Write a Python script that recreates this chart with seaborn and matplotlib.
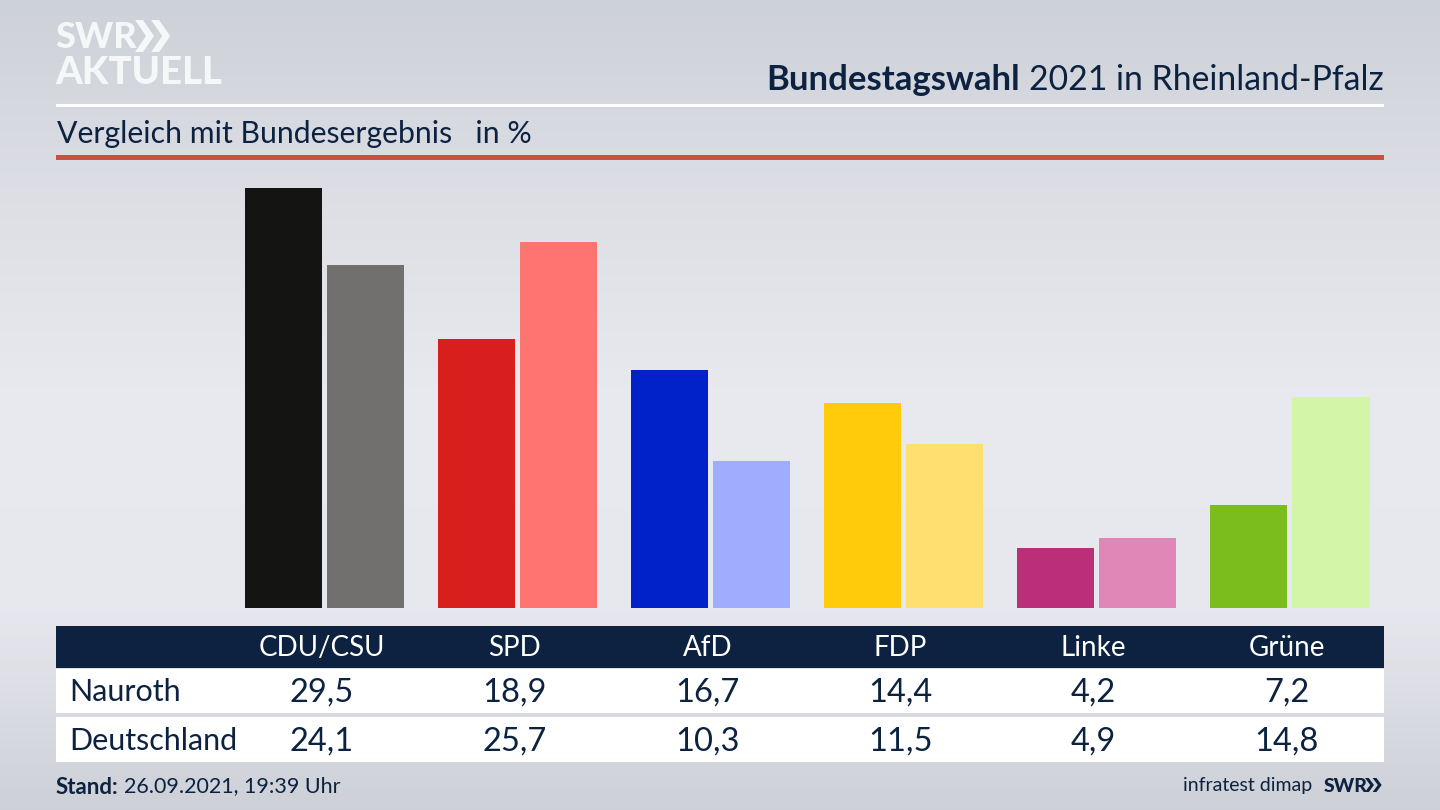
import numpy as np
import pandas as pd
import seaborn as sns
import matplotlib
matplotlib.use("Agg")
import matplotlib.pyplot as plt
from matplotlib.patches import Rectangle, Polygon
from matplotlib.colors import LinearSegmentedColormap

parties = ["CDU/CSU", "SPD", "AfD", "FDP", "Linke", "Grüne"]
nauroth = [29.5, 18.9, 16.7, 14.4, 4.2, 7.2]
deutschland = [24.1, 25.7, 10.3, 11.5, 4.9, 14.8]
colors_nauroth = ["#141413", "#d81f1d", "#0022c8", "#ffcb0b", "#bb2e78", "#7abd1c"]
colors_deutschland = ["#72706e", "#ff7470", "#9fadff", "#ffdf70", "#df88b8", "#d2f5a8"]
row_labels = ["Nauroth", "Deutschland"]

sns.set_theme(style="white")
FONT = ["Lato", "DejaVu Sans"]
plt.rcParams["font.family"] = FONT
NAVY = "#0c2240"
W, H = 1440, 810

fig = plt.figure(figsize=(14.4, 8.1), dpi=100)

# background
bg = fig.add_axes([0, 0, 1, 1], zorder=0)
cmap = LinearSegmentedColormap.from_list("bg", ["#cdd1d8", "#dddfe5", "#e9eaf0", "#e7e8ee", "#cdd0d7"])
grad = np.linspace(0, 1, 256).reshape(-1, 1)
bg.imshow(grad, cmap=cmap, aspect="auto", extent=[0, W, H, 0])
bg.set_xlim(0, W); bg.set_ylim(H, 0); bg.axis("off")

def T(x, y, s, size, color=NAVY, ha="left", weight="normal", **kw):
    return bg.text(x, y, s, fontsize=size, color=color, ha=ha, va="center", weight=weight, family=FONT, **kw)

def R(x0, y0, x1, y1, color):
    bg.add_patch(Rectangle((x0, y0), x1 - x0, y1 - y0, facecolor=color, edgecolor="none"))

def chevrons(x, y, h, w, color):
    for dx in (0, w * 0.85):
        bg.add_patch(Polygon([(x + dx, y), (x + dx + w * .42, y), (x + dx + w, y + h / 2),
                              (x + dx + w * .42, y + h), (x + dx, y + h), (x + dx + w * .58, y + h / 2)],
                             closed=True, facecolor=color, edgecolor="none"))

# header
T(55, 38, "SWR", 26, color="#f6f7f8", weight="black")
chevrons(135, 20, 32, 19, "#f6f7f8")
T(55, 73, "AKTUELL", 27.5, color="#f6f7f8", weight="black")
T(1384, 80, "2021 in Rheinland-Pfalz", 24.3, ha="right")
T(1020, 80, "Bundestagswahl", 25, ha="right", weight="bold")
R(56, 104, 1384, 107, "#ffffff")
T(57, 133.5, "Vergleich mit Bundesergebnis   in %", 21.8)
R(56, 155, 1384, 160, "#c94f3f")

# bars
left, right = 228, 1386.5
top, base = 170, 608
ax = fig.add_axes([left / W, 1 - base / H, (right - left) / W, (base - top) / H], zorder=1)
df = pd.DataFrame({"party": parties * 2,
                   "value": nauroth + deutschland,
                   "region": [row_labels[0]] * 6 + [row_labels[1]] * 6})
sns.barplot(data=df, x="party", y="value", hue="region", order=parties, hue_order=row_labels,
            width=0.85, gap=0.061, legend=False, ax=ax, saturation=1)
for cont, cols in zip(ax.containers, [colors_nauroth, colors_deutschland]):
    for patch, c in zip(cont, cols):
        patch.set_facecolor(c)
        patch.set_edgecolor("none")
ax.set_xlim(-0.5, 5.5)
ax.set_ylim(0, (base - top) / 14.25)
ax.axis("off")

# table
R(56, 626, 1384, 668, NAVY)
R(56, 669, 1384, 713, "#ffffff")
R(56, 717, 1384, 762, "#ffffff")
centers = [left + 96.5 + 193 * i for i in range(6)]
for cx, p, a, b in zip(centers, parties, nauroth, deutschland):
    T(cx - 3, 648.5, p, 20, color="#ffffff", ha="center")
    T(cx - 3, 692.5, f"{a:.1f}".replace(".", ","), 23.5, ha="center")
    T(cx - 3, 741.5, f"{b:.1f}".replace(".", ","), 23.5, ha="center")
T(69.5, 692, row_labels[0], 22)
T(69.5, 741, row_labels[1], 22)

# footer
T(56, 787, "Stand:", 16, weight="bold")
T(124, 786, "26.09.2021, 19:39 Uhr", 15.5)
T(1312, 786, "infratest dimap", 14, ha="right")
T(1324, 786, "SWR", 14, weight="black")
chevrons(1365, 778, 14, 9, NAVY)

fig.savefig("out.png", dpi=100)
